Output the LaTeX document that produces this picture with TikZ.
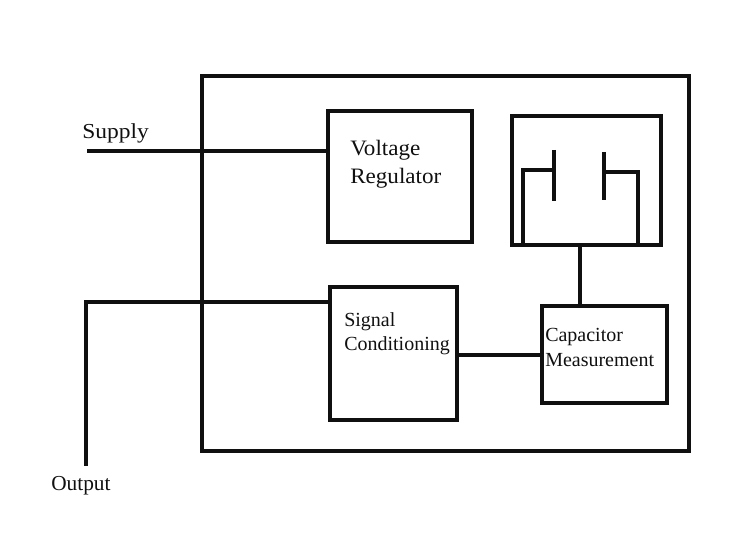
\documentclass[tikz,border=0pt]{standalone}
\usepackage{fontspec}
\setmainfont{Liberation Serif}
\newfontfamily\widea[FakeStretch=1.1]{Liberation Serif}
\newfontfamily\wideb[FakeStretch=1.05]{Liberation Serif}
\definecolor{ink}{HTML}{101010}
\tikzset{
  wire/.style={draw=ink,line width=3pt},
  blockbox/.style={draw=ink,line width=3pt,fill=none,inner sep=0pt,outer sep=0pt,anchor=north west},
  lbl/.style={text=ink,inner sep=0pt,anchor=west,align=left}
}
\begin{document}
\begin{tikzpicture}[x=0.75pt,y=-0.75pt]
\useasboundingbox (0,0) rectangle (751,538);
\node[blockbox,minimum width=365.6pt,minimum height=281.2pt] (outer) at (202,76) {};
\node[blockbox,minimum width=108pt,minimum height=98pt] (reg) at (328,111) {};
\node[blockbox,minimum width=112.1pt,minimum height=96.8pt] (cap) at (512,116) {};
\node[blockbox,minimum width=95.3pt,minimum height=99.5pt] (sig) at (330,287) {};
\node[blockbox,minimum width=94pt,minimum height=73pt] (meas) at (542,306) {};
\coordinate (sup) at (87,151);
\coordinate (out) at (86,466);
\draw[wire] (sup) -- (sup -| reg.west);
\draw[wire] (out) |- (sig.west |- 0,302);
\draw[wire] (sig.east |- 0,355) -- (meas.west |- 0,355);
\draw[wire] (meas.north -| 580,0) -- (580,244);
\draw[wire] (554,150) -- (554,201);
\draw[wire] (604,152) -- (604,200);
\draw[wire] (554,170) -- (523,170) -- (523,244);
\draw[wire] (604,172) -- (638,172) -- (638,244);
\node[lbl,font=\widea\fontsize{16}{18}\selectfont] (tsup) at (82,133) {Supply};
\node[lbl,font=\fontsize{16}{18}\selectfont] (tout) at (51,486) {Output};
\node[lbl,font=\wideb\fontsize{16.5}{18}\selectfont] (tv) at (350,150) {Voltage};
\node[lbl,font=\wideb\fontsize{16.5}{18}\selectfont] (tr) at (350,178) {Regulator};
\node[lbl,font=\fontsize{15}{18}\selectfont] (ts) at (344,322) {Signal};
\node[lbl,font=\fontsize{15}{18}\selectfont] (tc) at (344,346) {Conditioning};
\node[lbl,font=\fontsize{15}{18}\selectfont] (tca) at (545,337) {Capacitor};
\node[lbl,font=\fontsize{15}{18}\selectfont] (tm) at (545,360) {Measurement};
\end{tikzpicture}
\end{document}
